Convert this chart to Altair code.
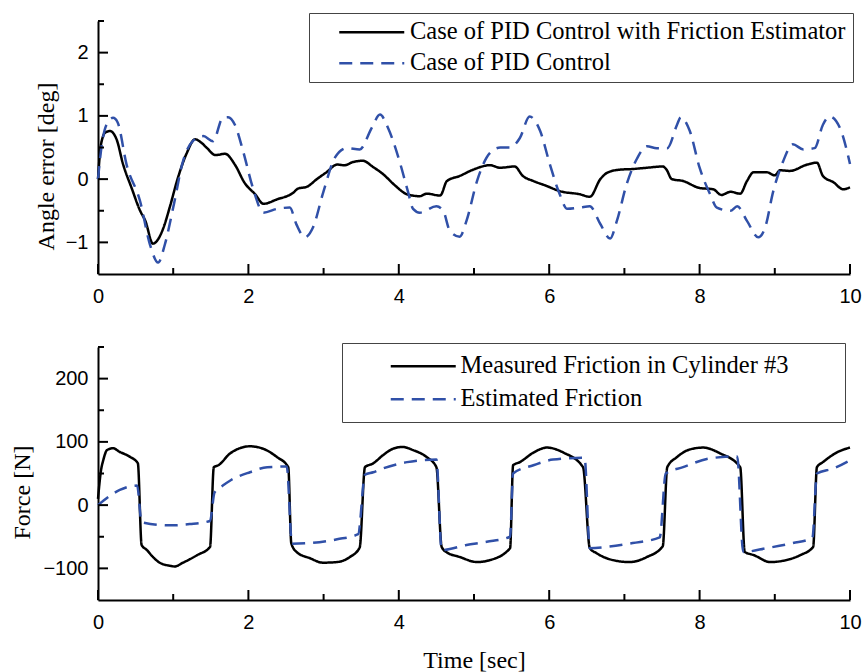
import altair as alt
import pandas as pd

# ---------------- top panel: angle error [deg] ----------------
top_names = ["Case of PID Control with Friction Estimator", "Case of PID Control"]

t_est = [0.0, 0.04, 0.1, 0.16, 0.25, 0.33, 0.45, 0.56, 0.63, 0.73, 0.8, 0.87, 0.96, 1.05,
         1.18, 1.29, 1.37, 1.45, 1.56, 1.69, 1.82, 1.95, 2.09, 2.2, 2.38, 2.59, 2.66, 2.78,
         2.91, 3.04, 3.18, 3.28, 3.39, 3.52, 3.66, 3.79, 3.95, 4.11, 4.28, 4.37, 4.55, 4.64,
         4.81, 4.99, 5.21, 5.35, 5.54, 5.65, 5.79, 5.97, 6.14, 6.41, 6.54, 6.68, 6.77, 6.94,
         7.11, 7.3, 7.51, 7.56, 7.63, 7.78, 8.0, 8.18, 8.29, 8.41, 8.54, 8.63, 8.72, 8.89,
         9.0, 9.07, 9.2, 9.43, 9.56, 9.64, 9.78, 9.91, 10.0]
v_est = [0.0, 0.55, 0.74, 0.76, 0.62, 0.25, -0.15, -0.5, -0.66, -1.02, -0.95, -0.77, -0.42, -0.03,
         0.41, 0.63, 0.58, 0.49, 0.38, 0.4, 0.23, -0.06, -0.24, -0.39, -0.32, -0.22, -0.15, -0.12,
         0.0, 0.11, 0.23, 0.22, 0.27, 0.29, 0.19, 0.08, -0.1, -0.24, -0.27, -0.23, -0.26, -0.03,
         0.05, 0.15, 0.22, 0.18, 0.2, 0.05, -0.03, -0.11, -0.19, -0.24, -0.28, 0.0, 0.1, 0.15,
         0.16, 0.18, 0.2, 0.15, 0.0, -0.03, -0.14, -0.16, -0.25, -0.2, -0.23, -0.03, 0.11, 0.11,
         0.06, 0.14, 0.13, 0.23, 0.26, 0.05, -0.05, -0.16, -0.13]

t_pid = [0.0, 0.04, 0.11, 0.2, 0.26, 0.38, 0.56, 0.69, 0.8, 0.89, 1.0, 1.13, 1.26, 1.4, 1.53,
         1.66, 1.73, 1.82, 1.93, 2.06, 2.2, 2.38, 2.55, 2.64, 2.75, 2.86, 3.0, 3.15, 3.31,
         3.48, 3.64, 3.75, 3.86, 4.02, 4.12, 4.19, 4.28, 4.5, 4.59, 4.68, 4.81, 4.9, 5.04,
         5.21, 5.35, 5.48, 5.61, 5.74, 5.88, 6.01, 6.14, 6.24, 6.41, 6.54, 6.68, 6.81, 6.9,
         7.03, 7.17, 7.3, 7.43, 7.57, 7.7, 7.75, 7.87, 8.0, 8.14, 8.23, 8.41, 8.5, 8.63,
         8.78, 8.87, 8.98, 9.11, 9.24, 9.38, 9.53, 9.64, 9.73, 9.87, 10.0]
v_pid = [0.0, 0.45, 0.85, 0.97, 0.9, 0.23, -0.35, -1.03, -1.32, -1.03, -0.45, 0.28, 0.6, 0.68, 0.6,
         0.97, 0.98, 0.86, 0.44, -0.14, -0.53, -0.47, -0.45, -0.72, -0.92, -0.76, -0.19, 0.34, 0.49,
         0.47, 0.81, 1.02, 0.8, 0.24, -0.19, -0.47, -0.53, -0.43, -0.5, -0.82, -0.91, -0.66, -0.03,
         0.41, 0.5, 0.5, 0.65, 0.99, 0.76, 0.23, -0.24, -0.47, -0.45, -0.43, -0.71, -0.94, -0.66,
         -0.08, 0.33, 0.52, 0.49, 0.49, 0.86, 0.98, 0.76, 0.18, -0.24, -0.45, -0.5, -0.43, -0.66,
         -0.92, -0.77, -0.19, 0.28, 0.55, 0.47, 0.49, 0.86, 0.99, 0.8, 0.24]

# ---------------- bottom panel: force [N] ----------------
bot_names = ["Measured Friction in Cylinder #3", "Estimated Friction"]

t_meas = [0.0, 0.04, 0.07, 0.12, 0.2, 0.29, 0.33, 0.43, 0.53, 0.58, 0.65, 0.73, 0.82, 0.96, 1.02,
          1.13, 1.32, 1.49, 1.54, 1.6, 1.76, 2.02, 2.2, 2.38, 2.53, 2.57, 2.64, 2.82, 2.99, 3.18,
          3.35, 3.48, 3.55, 3.66, 3.79, 3.92, 4.05, 4.19, 4.37, 4.5, 4.57, 4.63, 4.81, 5.04, 5.21,
          5.48, 5.52, 5.61, 5.79, 5.97, 6.19, 6.45, 6.54, 6.63, 6.85, 7.07, 7.3, 7.51, 7.57, 7.7,
          7.87, 8.05, 8.27, 8.54, 8.6, 8.72, 8.94, 9.11, 9.34, 9.51, 9.56, 9.64, 9.82, 10.0]
f_meas = [10, 55, 71, 87, 90, 84, 82, 76, 66, -63, -71, -82, -91, -96, -97,
          -91, -79, -66, 60, 63, 82, 93, 89, 76, 60, -60, -74, -84, -91, -90,
          -82, -67, 60, 66, 79, 89, 92, 87, 76, 60, -66, -74, -82, -90, -87,
          -68, 63, 68, 83, 91, 83, 60, -68, -76, -87, -90, -82, -65, 60, 76,
          88, 91, 82, 60, -74, -79, -90, -88, -79, -66, 60, 68, 83, 91]

t_estf = [0.0, 0.29, 0.52, 0.58, 0.96, 1.22, 1.49, 1.55, 1.66, 1.76, 2.02, 2.25, 2.51, 2.58, 2.82,
          3.18, 3.46, 3.55, 3.66, 3.79, 4.11, 4.5, 4.57, 4.9, 5.17, 5.48, 5.52, 5.79, 6.05, 6.47,
          6.54, 6.77, 7.11, 7.47, 7.55, 7.78, 8.14, 8.5, 8.58, 8.89, 9.24, 9.5, 9.56, 9.78, 10.0]
f_estf = [0, 24, 31, -27, -32, -30, -25, 20, 31, 39, 52, 60, 61, -61, -60,
          -54, -46, 48, 52, 58, 68, 72, -71, -63, -58, -50, 50, 63, 72, 75,
          -68, -66, -60, -51, 50, 60, 74, 77, -74, -68, -60, -52, 50, 58, 71]

# ---------------- axis ticks ----------------
x_major = [0, 2, 4, 6, 8, 10]
x_minor = [1, 3, 5, 7, 9]
y1_major = [-1, 0, 1, 2]
y1_minor = [-0.5, 0.5, 1.5, 2.5]
y2_major = [-100, 0, 100, 200]
y2_minor = [-50, 50, 150, 250]

W, H = 752, 253
BLACK, BLUE = "#000000", "#3050A8"
DASH = [13, 8]
SERIF = "Liberation Serif"
SANS = "Liberation Sans"


def series_frame(names, t_a, v_a, t_b, v_b):
    a = pd.DataFrame({"t": t_a, "v": v_a, "series": names[0]})
    b = pd.DataFrame({"t": t_b, "v": v_b, "series": names[1]})
    return pd.concat([a, b], ignore_index=True)


def panel(df, names, ydom, ymaj, ymin, ytitle, title_x, legx, legy, pad, so, lo, rowpad,
          xtitle, extra_right):
    xscale = alt.Scale(domain=[0, 10], nice=False)
    yscale = alt.Scale(domain=ydom, nice=False, zero=False)
    leg_kw = dict(
        orient="none", legendX=legx, legendY=legy,
        symbolType="M-6.5,0H6.5", symbolSize=100, symbolStrokeWidth=2.5,
        labelFont=SERIF, labelFontSize=24.5, labelColor="black", labelLimit=800,
        padding=pad, symbolOffset=so, labelOffset=lo, rowPadding=rowpad,
        strokeColor="#444444", fillColor="white",
    )
    if extra_right > 0:
        leg_kw.update(title=" ", titleOrient="right", titlePadding=extra_right, titleFontSize=4)
    else:
        leg_kw.update(title=None)
    legend = alt.Legend(**leg_kw)
    xaxis = alt.Axis(values=x_major, labelPadding=12, labelFlush=False, title=xtitle,
                     titleBaseline="alphabetic", titleY=67)
    yaxis = alt.Axis(values=ymaj, labelPadding=10, labelFlush=False, title=ytitle,
                     titleBaseline="alphabetic", titleX=title_x, titleY=145)
    lines = alt.Chart(df).mark_line(strokeWidth=2.5, interpolate="monotone").encode(
        x=alt.X("t:Q", scale=xscale, axis=xaxis),
        y=alt.Y("v:Q", scale=yscale, axis=yaxis),
        color=alt.Color("series:N", scale=alt.Scale(domain=names, range=[BLACK, BLUE]), legend=legend),
        strokeDash=alt.StrokeDash("series:N", scale=alt.Scale(domain=names, range=[[1, 0], DASH]), legend=legend),
    )
    xt_major = alt.Chart(pd.DataFrame({"t": x_major})).mark_rule(color="black", strokeWidth=2).encode(
        x=alt.X("t:Q", scale=xscale, axis=xaxis), y=alt.value(H), y2=alt.value(H - 10))
    xt_minor = alt.Chart(pd.DataFrame({"t": x_minor})).mark_rule(color="black", strokeWidth=2).encode(
        x=alt.X("t:Q", scale=xscale, axis=xaxis), y=alt.value(H), y2=alt.value(H - 6))
    yt_major = alt.Chart(pd.DataFrame({"v": ymaj})).mark_rule(color="black", strokeWidth=2).encode(
        y=alt.Y("v:Q", scale=yscale, axis=yaxis), x=alt.value(0), x2=alt.value(10))
    yt_minor = alt.Chart(pd.DataFrame({"v": ymin})).mark_rule(color="black", strokeWidth=2).encode(
        y=alt.Y("v:Q", scale=yscale, axis=yaxis), x=alt.value(0), x2=alt.value(6))
    return alt.layer(lines, xt_major, xt_minor, yt_major, yt_minor).properties(width=W, height=H)


top_df = series_frame(top_names, t_est, v_est, t_pid, v_pid)
bot_df = series_frame(bot_names, t_meas, f_meas, t_estf, f_estf)

top = panel(top_df, top_names, [-1.5, 2.5], y1_major, y1_minor, "Angle error [deg]", -45,
            211, -8, 7, 43.5, 26, 6, None, 0)
bottom = panel(bot_df, bot_names, [-150, 250], y2_major, y2_minor, "Force [N]", -69,
               244, -4, 11, 58, 25, 8, "Time [sec]", 46)

chart = alt.vconcat(top, bottom, spacing=73, bounds="flush").resolve_scale(
    color="independent", strokeDash="independent", y="independent"
).properties(
    padding={"left": 10, "top": 12, "right": 0, "bottom": 0},
    background="white",
).configure_view(stroke=None).configure_axis(
    grid=False, ticks=False, domainColor="black", domainWidth=2,
    labelFont=SANS, labelFontSize=20, labelColor="black",
    titleFont=SERIF, titleFontSize=24, titleFontWeight="normal", titleColor="black",
)

chart.save("out.html", embed_options={"renderer": "svg", "actions": False})
